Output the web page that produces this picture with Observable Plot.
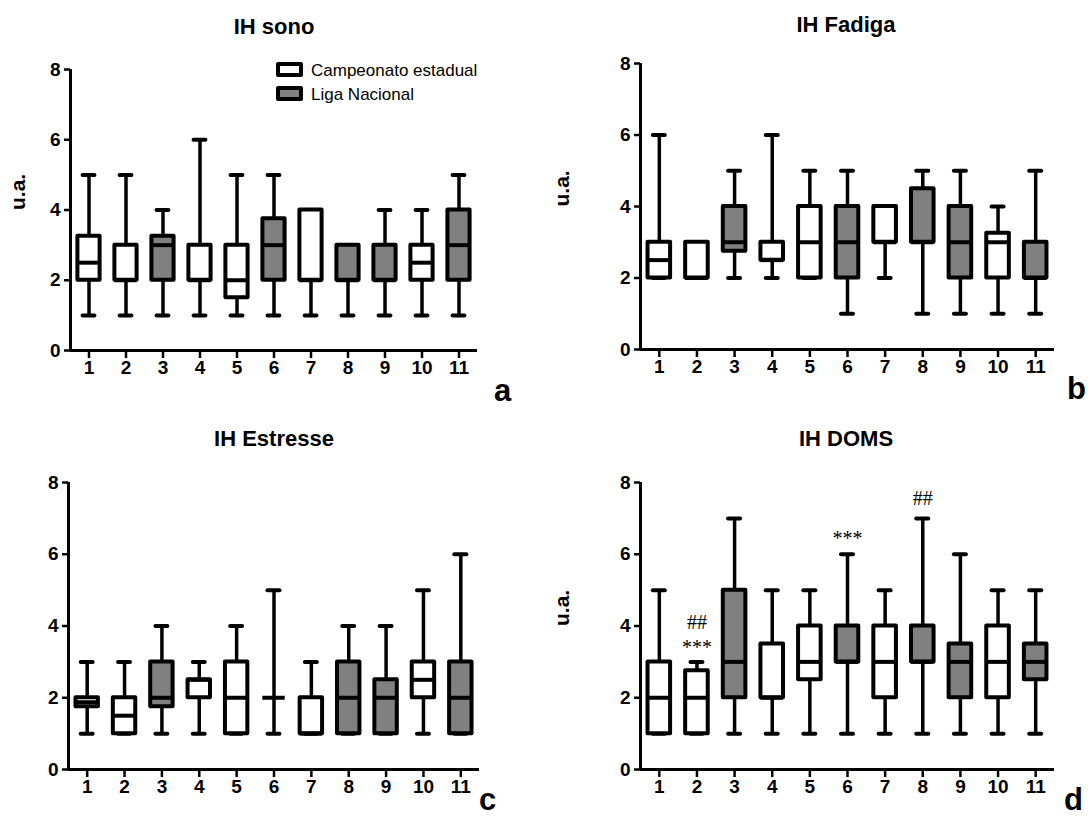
<!DOCTYPE html>
<html><head><meta charset="utf-8">
<script src="https://cdn.jsdelivr.net/npm/d3@7"></script>
<script src="https://cdn.jsdelivr.net/npm/@observablehq/plot@0.6"></script>
<style>
body{margin:0;background:#fff;font-family:"Liberation Sans",Arial,sans-serif;}
#root{position:relative;width:1088px;height:819px;overflow:hidden;background:#fff;}
.panel{position:absolute;}
.title{position:absolute;font-weight:bold;font-size:22px;transform:translateX(-50%);white-space:nowrap;line-height:1;}
.letter{position:absolute;font-weight:bold;font-size:31px;line-height:24px;}
.legend{position:absolute;font-size:17px;line-height:24px;white-space:nowrap;}
.sw{display:inline-block;width:19px;height:7px;border:4px solid #000;border-radius:2px;vertical-align:-1px;margin-right:8px;}
</style></head><body><div id="root"></div>
<script>
// categories and groups
const categories = [1,2,3,4,5,6,7,8,9,10,11];
const groups = ["Campeonato estadual","Campeonato estadual","Liga Nacional","Campeonato estadual","Campeonato estadual","Liga Nacional","Campeonato estadual","Liga Nacional","Liga Nacional","Campeonato estadual","Liga Nacional"];
const yTicks = [0,2,4,6,8];

// IH sono
const sonoMin = [1,1,1,1,1,1,1,1,1,1,1];
const sonoQ1  = [2,2,2,2,1.5,2,2,2,2,2,2];
const sonoMed = [2.5,2,3,2,2,3,2,2,2,2.5,3];
const sonoQ3  = [3.25,3,3.25,3,3,3.75,4,3,3,3,4];
const sonoMax = [5,5,4,6,5,5,4,3,4,4,5];

// IH Fadiga
const fadMin = [2,2,2,2,2,1,2,1,1,1,1];
const fadQ1  = [2,2,2.75,2.5,2,2,3,3,2,2,2];
const fadMed = [2.5,2,3,2.5,3,3,3,3,3,3,2];
const fadQ3  = [3,3,4,3,4,4,4,4.5,4,3.25,3];
const fadMax = [6,3,5,6,5,5,4,5,5,4,5];

// IH Estresse
const estMin = [1,1,1,1,1,1,1,1,1,1,1];
const estQ1  = [1.75,1,1.75,2,1,2,1,1,1,2,1];
const estMed = [1.875,1.5,2,2.5,2,2,1,2,2,2.5,2];
const estQ3  = [2,2,3,2.5,3,2,2,3,2.5,3,3];
const estMax = [3,3,4,3,4,5,3,4,4,5,6];

// IH DOMS
const domsMin = [1,1,1,1,1,1,1,1,1,1,1];
const domsQ1  = [1,1,2,2,2.5,3,2,3,2,2,2.5];
const domsMed = [2,2,3,2,3,3,3,3,3,3,3];
const domsQ3  = [3,2.75,5,3.5,4,4,4,4,3.5,4,3.5];
const domsMax = [5,3,7,5,5,6,5,7,6,5,5];

// significance marks (DOMS)
const annotCats   = [2,2,6,8];
const annotY      = [4.1,3.4,6.45,7.55];
const annotLabels = ["##","***","***","##"];

const fills = {"Campeonato estadual":"#ffffff","Liga Nacional":"#808080"};

function rowsOf(mn,q1,md,q3,mx){
  return categories.map((c,i)=>({cat:c, group:groups[i], min:mn[i], q1:q1[i], med:md[i], q3:q3[i], max:mx[i]}));
}

const panels = [
  {title:"IH sono", letter:"a", rows:rowsOf(sonoMin,sonoQ1,sonoMed,sonoQ3,sonoMax), left:0, top:0, w:544, h:410, mL:70, mR:67, mT:69, mB:60, ylab:true, tx:274, ty:16, lx:494, ly:379},
  {title:"IH Fadiga", letter:"b", rows:rowsOf(fadMin,fadQ1,fadMed,fadQ3,fadMax), left:544, top:0, w:544, h:410, mL:96, mR:34, mT:63, mB:61, ylab:true, tx:846, ty:14, lx:1067, ly:377},
  {title:"IH Estresse", letter:"c", rows:rowsOf(estMin,estQ1,estMed,estQ3,estMax), left:0, top:410, w:544, h:409, mL:68, mR:65, mT:72, mB:50, ylab:false, tx:274, ty:428, lx:479, ly:788},
  {title:"IH DOMS", letter:"d", rows:rowsOf(domsMin,domsQ1,domsMed,domsQ3,domsMax), left:544, top:410, w:544, h:409, mL:96, mR:34, mT:72, mB:50, ylab:true, tx:846, ty:428, lx:1064, ly:788,
   annots: annotCats.map((c,i)=>({cat:c, y:annotY[i], label:annotLabels[i]}))}
];

const root = document.getElementById("root");
const xDomain = [0.5, 11.5];
const boxHalf = 0.3, capHalf = 0.16;

for (const p of panels) {
  const marks = [
    Plot.ruleX(p.rows, {x:"cat", y1:"min", y2:"q1", stroke:"#000", strokeWidth:3.5}),
    Plot.ruleX(p.rows, {x:"cat", y1:"q3", y2:"max", stroke:"#000", strokeWidth:3.5}),
    Plot.ruleY(p.rows, {y:"min", x1:d=>d.cat-capHalf, x2:d=>d.cat+capHalf, stroke:"#000", strokeWidth:4, strokeLinecap:"round"}),
    Plot.ruleY(p.rows, {y:"max", x1:d=>d.cat-capHalf, x2:d=>d.cat+capHalf, stroke:"#000", strokeWidth:4, strokeLinecap:"round"}),
    Plot.rect(p.rows, {x1:d=>d.cat-boxHalf, x2:d=>d.cat+boxHalf, y1:"q1", y2:"q3", fill:d=>fills[d.group], stroke:"#000", strokeWidth:4, strokeLinejoin:"round"}),
    Plot.ruleY(p.rows, {y:"med", x1:d=>d.cat-boxHalf, x2:d=>d.cat+boxHalf, stroke:"#000", strokeWidth:4}),
    Plot.ruleY([0], {stroke:"#000", strokeWidth:3}),
    Plot.ruleX([xDomain[0]], {stroke:"#000", strokeWidth:3}),
    Plot.axisY({ticks:yTicks, tickSize:6, tickPadding:4, strokeWidth:2.5, label:null, fontSize:19, fontWeight:"bold", fill:"#000"}),
    Plot.axisX({ticks:categories, tickSize:8, tickPadding:2, strokeWidth:2.5, tickFormat:d=>String(d), label:null, fontSize:19, fontWeight:"bold", fill:"#000"})
  ];
  if (p.ylab) marks.push(Plot.text(["u.a."], {frameAnchor:"left", dx:-(p.mL-18), rotate:-90, text:d=>d, fontSize:21, fontWeight:"bold", fill:"#000"}));
  if (p.annots) marks.push(Plot.text(p.annots, {x:"cat", y:"y", text:"label", fontFamily:"Liberation Serif, serif", fontSize:20, fontWeight:"normal", fill:"#000"}));
  const chart = Plot.plot({
    width:p.w, height:p.h, marginLeft:p.mL, marginRight:p.mR, marginTop:p.mT, marginBottom:p.mB,
    x:{type:"linear", domain:xDomain},
    y:{domain:[0,8]},
    style:{fontFamily:"Liberation Sans, Arial, sans-serif", fontSize:"19px", color:"#000", background:"transparent"},
    marks
  });
  const div = document.createElement("div");
  div.className = "panel";
  div.style.left = p.left+"px"; div.style.top = p.top+"px";
  div.appendChild(chart);
  root.appendChild(div);

  const t = document.createElement("div");
  t.className = "title"; t.textContent = p.title;
  t.style.left = p.tx+"px"; t.style.top = p.ty+"px";
  root.appendChild(t);

  const l = document.createElement("div");
  l.className = "letter"; l.textContent = p.letter;
  l.style.left = p.lx+"px"; l.style.top = p.ly+"px";
  root.appendChild(l);
}

// legend
const legendItems = ["Campeonato estadual","Liga Nacional"];
const lg = document.createElement("div");
lg.className = "legend";
lg.style.left = "276px"; lg.style.top = "59px";
for (const g of legendItems) {
  const row = document.createElement("div");
  const sw = document.createElement("span");
  sw.className = "sw"; sw.style.background = fills[g];
  row.appendChild(sw);
  row.appendChild(document.createTextNode(g));
  lg.appendChild(row);
}
root.appendChild(lg);
</script></body></html>
